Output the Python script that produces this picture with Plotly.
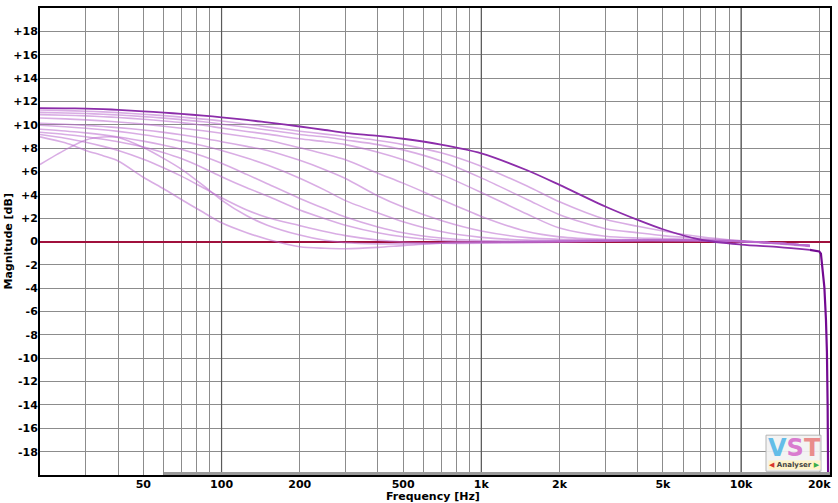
import plotly.graph_objects as go

# ---------------- data ----------------
freq_hz = [20, 25, 30, 35, 40, 50, 60, 70, 85, 100, 125, 150, 200, 250, 300, 400,
           500, 700, 1000, 1500, 2000, 3000, 4000, 5000, 7000, 10000, 14000, 18400]

# darkest curve (highest corner frequency)
curve_01 = [11.43, 11.41, 11.38, 11.33, 11.28, 11.15, 11.04, 10.93, 10.78, 10.64, 10.42, 10.2,
            9.85, 9.55, 9.3, 9.05, 8.8, 8.3, 7.55, 6.1, 4.85, 3.0, 1.85, 1.05, 0.15, -0.26, -0.48, -0.72]
curve_02 = [11.26, 11.21, 11.16, 11.1, 11.04, 10.9, 10.78, 10.65, 10.48, 10.32, 10.05, 9.82,
            9.45, 9.2, 9.0, 8.65, 8.3, 7.6, 6.45, 4.75, 3.4, 1.9, 1.3, 0.9, 0.4, 0.05, -0.2, -0.42]
curve_03 = [11.06, 11.01, 10.96, 10.9, 10.84, 10.7, 10.57, 10.44, 10.25, 10.05, 9.78, 9.55,
            9.17, 8.95, 8.7, 8.3, 7.85, 6.9, 5.45, 3.6, 2.3, 1.1, 0.75, 0.5, 0.25, 0.05, -0.15, -0.38]
curve_04 = [10.87, 10.82, 10.76, 10.69, 10.62, 10.47, 10.32, 10.18, 9.95, 9.72, 9.42, 9.2,
            8.8, 8.55, 8.3, 7.65, 7.0, 5.75, 4.2, 2.35, 1.15, 0.45, 0.3, 0.25, 0.15, 0.03, -0.15, -0.36]
curve_05 = [10.58, 10.5, 10.42, 10.33, 10.24, 10.05, 9.87, 9.7, 9.48, 9.27, 8.97, 8.7,
            8.03, 7.5, 7.0, 5.85, 5.0, 3.6, 2.15, 0.85, 0.4, 0.18, 0.15, 0.13, 0.1, 0.0, -0.15, -0.35]
curve_06 = [10.13, 10.04, 9.95, 9.85, 9.75, 9.55, 9.35, 9.15, 8.85, 8.55, 8.15, 7.8,
            6.95, 6.15, 5.4, 3.9, 2.95, 1.8, 0.9, 0.33, 0.18, 0.13, 0.12, 0.12, 0.1, 0.0, -0.15, -0.35]
curve_07 = [9.96, 9.83, 9.7, 9.57, 9.43, 9.15, 8.88, 8.6, 8.2, 7.8, 7.15, 6.55,
            5.42, 4.4, 3.5, 2.45, 1.7, 0.85, 0.35, 0.12, 0.08, 0.1, 0.1, 0.1, 0.08, 0.0, -0.15, -0.35]
curve_08 = [9.62, 9.47, 9.3, 9.13, 8.95, 8.6, 8.25, 7.9, 7.3, 6.7, 5.75, 4.95,
            3.69, 2.8, 2.1, 1.25, 0.75, 0.3, 0.08, 0.02, 0.05, 0.08, 0.1, 0.1, 0.08, 0.0, -0.15, -0.35]
curve_09 = [9.36, 9.17, 8.97, 8.76, 8.55, 8.1, 7.6, 7.1, 6.3, 5.55, 4.6, 3.9,
            2.7, 1.95, 1.4, 0.75, 0.4, 0.1, -0.03, -0.05, 0.0, 0.05, 0.08, 0.1, 0.08, 0.0, -0.15, -0.35]
curve_10 = [9.16, 8.85, 8.5, 8.15, 7.8, 7.05, 6.3, 5.6, 4.6, 3.75, 2.7, 2.05,
            1.36, 0.85, 0.5, 0.12, -0.05, -0.15, -0.15, -0.1, -0.05, 0.03, 0.06, 0.08, 0.06, -0.02, -0.18, -0.38]
# curve with the low-frequency bump
curve_11 = [6.6, 7.85, 8.7, 8.95, 8.9, 8.05, 7.1, 6.2, 4.8, 3.55, 2.2, 1.4,
            0.55, 0.1, -0.1, -0.2, -0.2, -0.15, -0.08, -0.03, 0.0, 0.05, 0.08, 0.1, 0.08, 0.0, -0.15, -0.35]
# lowest corner frequency (dips below 0 dB)
curve_12 = [8.96, 8.45, 7.8, 7.35, 6.9, 5.5, 4.5, 3.6, 2.5, 1.6, 0.75, 0.2,
            -0.45, -0.58, -0.62, -0.5, -0.35, -0.15, -0.05, 0.0, 0.02, 0.05, 0.08, 0.1, 0.08, 0.0, -0.15, -0.35]

light_curves = [curve_02, curve_03, curve_04, curve_05, curve_06, curve_07,
                curve_08, curve_09, curve_10, curve_11, curve_12]

# steep roll-off of the darkest curve near Nyquist
tail_freq_hz = [18400, 19000, 19700, 20000, 20300, 20600, 20925, 21225, 21410, 21545, 21700]
tail_db = [-0.72, -0.75, -0.78, -0.85, -1.05, -2.5, -3.9, -6.7, -9.5, -14.1, -24.0]

# axis ticks
x_grid_hz = [30, 40, 50, 60, 70, 80, 90, 100, 200, 300, 400, 500, 600, 700, 800, 900,
             1000, 2000, 3000, 4000, 5000, 6000, 7000, 8000, 9000, 10000, 20000]
x_tick_text = ["", "", "50", "", "", "", "", "100", "200", "", "", "500", "", "", "", "",
               "1k", "2k", "", "", "5k", "", "", "", "", "10k", "20k"]
decade_hz = [100, 1000, 10000]
y_tick_vals = list(range(-18, 19, 2))
y_tick_text = [("+%d" % v if v > 0 else str(v)) for v in y_tick_vals]

# ---------------- figure ----------------
fig = go.Figure()

# darker decade grid lines
for d in decade_hz:
    fig.add_trace(go.Scatter(x=[d, d], y=[-20, 20], mode="lines",
                             line=dict(color="#5a5a5a", width=1.2),
                             hoverinfo="skip", showlegend=False))

for c in light_curves:
    fig.add_trace(go.Scatter(x=freq_hz, y=c, mode="lines",
                             line=dict(color="rgba(185,105,205,0.55)", width=1.6,
                                       shape="spline", smoothing=0.8),
                             showlegend=False))

fig.add_trace(go.Scatter(x=freq_hz, y=curve_01, mode="lines",
                         line=dict(color="rgb(140,45,170)", width=1.8,
                                   shape="spline", smoothing=0.8),
                         showlegend=False))
fig.add_trace(go.Scatter(x=tail_freq_hz, y=tail_db, mode="lines",
                         line=dict(color="rgb(115,10,145)", width=2.2),
                         showlegend=False))

bold = dict(family="DejaVu Sans", size=11, color="black", weight="bold")

fig.update_xaxes(type="log", range=[1.30103, 4.34242],
                 tickmode="array", tickvals=x_grid_hz, ticktext=x_tick_text,
                 showgrid=True, gridcolor="#8c8c8c", gridwidth=1,
                 showline=True, linecolor="black", linewidth=2, mirror=True,
                 ticks="", tickfont=bold, zeroline=False, ticklabelstandoff=-2)
fig.update_yaxes(range=[-20, 20], tickmode="array", tickvals=y_tick_vals, ticktext=y_tick_text,
                 showgrid=True, gridcolor="#8c8c8c", gridwidth=1,
                 zeroline=True, zerolinecolor="#A0103C", zerolinewidth=1.6,
                 showline=True, linecolor="black", linewidth=2, mirror=True,
                 ticks="", tickfont=bold, ticklabelstandoff=-2)

# analysis-range bar at the bottom of the plot
fig.add_shape(type="rect", xref="x", yref="paper", x0=60, x1=22000, y0=0, y1=0.0064,
              fillcolor="#9a9a9a", line=dict(width=0), layer="above")

# logo box
fig.add_shape(type="rect", xref="paper", yref="paper", x0=0.919, x1=0.9886, y0=0.008, y1=0.0853,
              fillcolor="rgba(242,242,242,0.9)", line=dict(color="#b5b5b5", width=1), layer="above")

annotations = [
    dict(text="Frequency [Hz]", xref="paper", yref="paper", x=0.4975, y=-0.0455,
         xanchor="center", yanchor="middle", showarrow=False, font=bold),
    dict(text="Magnitude [dB]", xref="paper", yref="paper", x=-0.0405, y=0.5,
         xanchor="center", yanchor="middle", textangle=-90, showarrow=False, font=bold),
    dict(text="<span style='color:#63BDE8'>V</span><span style='color:#D97BCF'>S</span>"
              "<span style='color:#E98C8C'>T</span>",
         xref="paper", yref="paper", x=0.9555, y=0.058, xanchor="center", yanchor="middle",
         showarrow=False, font=dict(family="DejaVu Sans", size=24, weight="bold")),
    dict(text="<span style='color:#D9362E'>◀</span> Analyser <span style='color:#3AAE49'>▶</span>",
         xref="paper", yref="paper", x=0.9555, y=0.0215,
         xanchor="center", yanchor="middle", showarrow=False, bgcolor="#FFF3C9",
         borderpad=0,
         font=dict(family="DejaVu Sans", size=7, color="#444", weight="bold")),
]

fig.update_layout(width=838, height=503,
                  margin=dict(l=40, r=6, t=6, b=28, pad=0),
                  paper_bgcolor="white", plot_bgcolor="white",
                  showlegend=False, annotations=annotations)

fig.write_html("out.html", config={"displayModeBar": False},
               post_script="document.body.style.margin='0';document.body.style.overflow='hidden';")
